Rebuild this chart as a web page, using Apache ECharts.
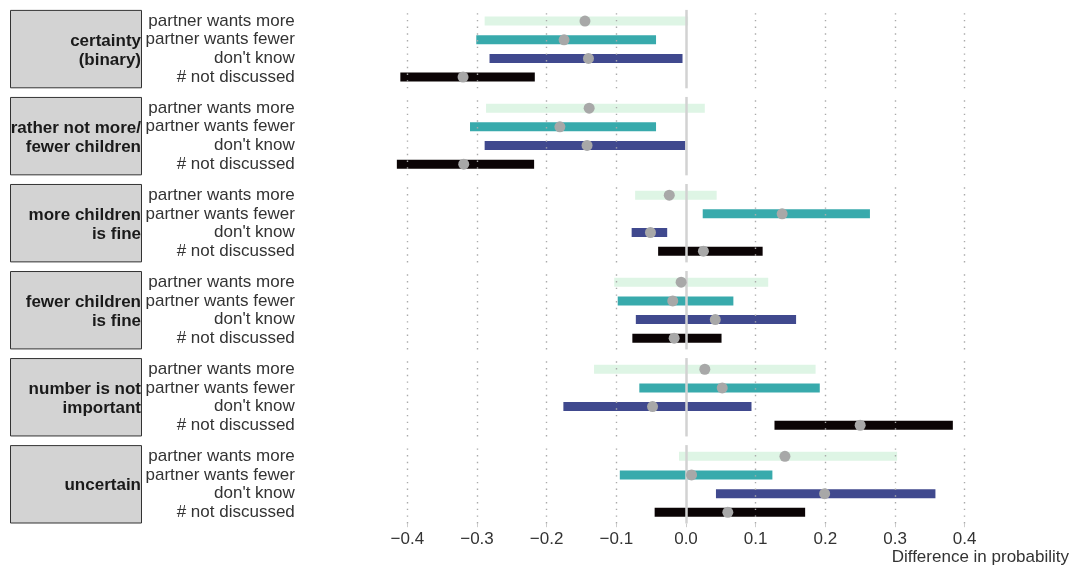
<!DOCTYPE html>
<html>
<head>
<meta charset="utf-8">
<script src="https://cdn.jsdelivr.net/npm/echarts@6/dist/echarts.min.js"></script>
<style>
  html, body { margin: 0; padding: 0; background: #ffffff; }
  #chart { width: 1073px; height: 567px; }
</style>
</head>
<body>
<div id="chart"></div>
<script>
// Rows within each facet, top to bottom
const categories = ['partner wants more', 'partner wants fewer', "don't know", '# not discussed'];

// Facet strip labels
const panels = [
  'certainty\n(binary)',
  'rather not more/\nfewer children',
  'more children\nis fine',
  'fewer children\nis fine',
  'number is not\nimportant',
  'uncertain'
];

// Point estimates, per facet, in category order
const estimate = [
  [-0.145, -0.175, -0.140, -0.320],
  [-0.139, -0.181, -0.142, -0.319],
  [-0.024,  0.138, -0.051,  0.025],
  [-0.007, -0.019,  0.042, -0.017],
  [ 0.027,  0.052, -0.048,  0.250],
  [ 0.142,  0.008,  0.199,  0.060]
];

// Interval lower bounds
const lower = [
  [-0.289, -0.301, -0.282, -0.410],
  [-0.287, -0.310, -0.289, -0.415],
  [-0.073,  0.024, -0.078, -0.040],
  [-0.103, -0.098, -0.072, -0.077],
  [-0.132, -0.067, -0.176,  0.127],
  [-0.010, -0.095,  0.043, -0.045]
];

// Interval upper bounds
const upper = [
  [ 0.003, -0.043, -0.005, -0.217],
  [ 0.027, -0.043, -0.001, -0.218],
  [ 0.044,  0.264, -0.027,  0.110],
  [ 0.118,  0.068,  0.158,  0.051],
  [ 0.186,  0.192,  0.094,  0.383],
  [ 0.303,  0.124,  0.358,  0.171]
];

// x-axis breaks
const xTicks = [-0.4, -0.3, -0.2, -0.1, 0.0, 0.1, 0.2, 0.3, 0.4];
const xMin = -0.55, xMax = 0.55;

// mako palette, one colour per row
const rowColors = ['#DEF5E5', '#38AAAC', '#40498E', '#0B0405'];

const FONT = '"Liberation Sans", Arial, Helvetica, sans-serif';

const panelLeft = 302.8;
const panelWidth = 766.4;
const panelTop0 = 9.9;
const panelStep = 87.04;
const panelHeight = 78.4;
const band = panelHeight / 4.2;

function fmtTick(v) {
  const s = Math.abs(v).toFixed(1);
  return v < -1e-9 ? '\u2212' + s : s;
}

const grid = [], xAxis = [], yAxis = [], series = [], graphics = [];

panels.forEach((name, i) => {
  const top = panelTop0 + panelStep * i;
  const last = i === panels.length - 1;

  // background grid: full panel height, carries reference lines and x axis
  grid.push({ left: panelLeft, width: panelWidth, top: top, height: panelHeight });
  xAxis.push({
    type: 'value', gridIndex: 2 * i, min: xMin, max: xMax,
    axisLine: { show: false },
    splitLine: { show: false },
    axisTick: last ? { show: true, customValues: xTicks, length: 3.7, lineStyle: { color: '#cccccc', width: 1 } } : { show: false },
    axisLabel: last ? {
      show: true, customValues: xTicks, formatter: fmtTick,
      fontSize: 17, color: '#333333', fontFamily: FONT, margin: 7
    } : { show: false }
  });
  yAxis.push({ type: 'value', gridIndex: 2 * i, min: 0, max: 1, show: false });

  // data grid: category rows
  grid.push({ left: panelLeft, width: panelWidth, top: top + band * 0.1, height: band * 4 });
  xAxis.push({ type: 'value', gridIndex: 2 * i + 1, min: xMin, max: xMax, show: false });
  yAxis.push({
    type: 'category', gridIndex: 2 * i + 1, data: categories, inverse: true,
    axisLine: { show: false }, axisTick: { show: false }, splitLine: { show: false },
    axisLabel: {
      interval: 0, hideOverlap: false, fontSize: 17, color: '#333333', fontFamily: FONT,
      margin: 8, padding: [3, 0, 0, 0]
    }
  });

  // reference lines: dotted at breaks, solid at zero
  const lines = xTicks.map(t => Math.abs(t) < 1e-9
    ? { xAxis: t, lineStyle: { type: 'solid', color: '#d2d2d2', width: 2.5 } }
    : { xAxis: t, lineStyle: { type: [1.4, 5.3], color: '#aaaaaa', width: 1.4 } });
  series.push({
    type: 'scatter', xAxisIndex: 2 * i, yAxisIndex: 2 * i, data: [], silent: true,
    markLine: { silent: true, symbol: ['none', 'none'], label: { show: false }, animation: false, data: lines }
  });

  // interval bars
  series.push({
    type: 'custom', xAxisIndex: 2 * i + 1, yAxisIndex: 2 * i + 1,
    encode: { x: [0, 1], y: 2 },
    data: categories.map((c, k) => [lower[i][k], upper[i][k], k]),
    renderItem: (params, api) => {
      const k = api.value(2);
      const a = api.coord([api.value(0), k]);
      const b = api.coord([api.value(1), k]);
      const h = 9;
      return {
        type: 'rect',
        shape: { x: a[0], y: a[1] - h / 2, width: b[0] - a[0], height: h },
        style: { fill: rowColors[k] }
      };
    },
    animation: false
  });

  // point estimates
  series.push({
    type: 'scatter', xAxisIndex: 2 * i + 1, yAxisIndex: 2 * i + 1,
    data: categories.map((c, k) => [estimate[i][k], k]),
    symbolSize: 11, itemStyle: { color: '#a8a8a8', opacity: 1 },
    animation: false, z: 5
  });

  // facet strip
  graphics.push({
    type: 'rect', shape: { x: 10.5, y: top + 0.5, width: 131, height: panelHeight - 1 },
    style: { fill: '#d3d3d3', stroke: '#333333', lineWidth: 1 }
  });
  graphics.push({
    type: 'text', x: 141, y: top + panelHeight / 2 + 1.5,
    style: {
      text: name, align: 'right', verticalAlign: 'middle',
      font: 'bold 17px ' + FONT, fill: '#1a1a1a', lineHeight: 19
    }
  });
});

graphics.push({
  type: 'text', x: 1069, y: 557,
  style: {
    text: 'Difference in probability', align: 'right', verticalAlign: 'middle',
    font: '17px ' + FONT, fill: '#333333'
  }
});

const chart = echarts.init(document.getElementById('chart'), null, { renderer: 'canvas' });
chart.setOption({
  animation: false,
  backgroundColor: '#ffffff',
  grid, xAxis, yAxis, series,
  graphic: graphics
});
</script>
</body>
</html>
